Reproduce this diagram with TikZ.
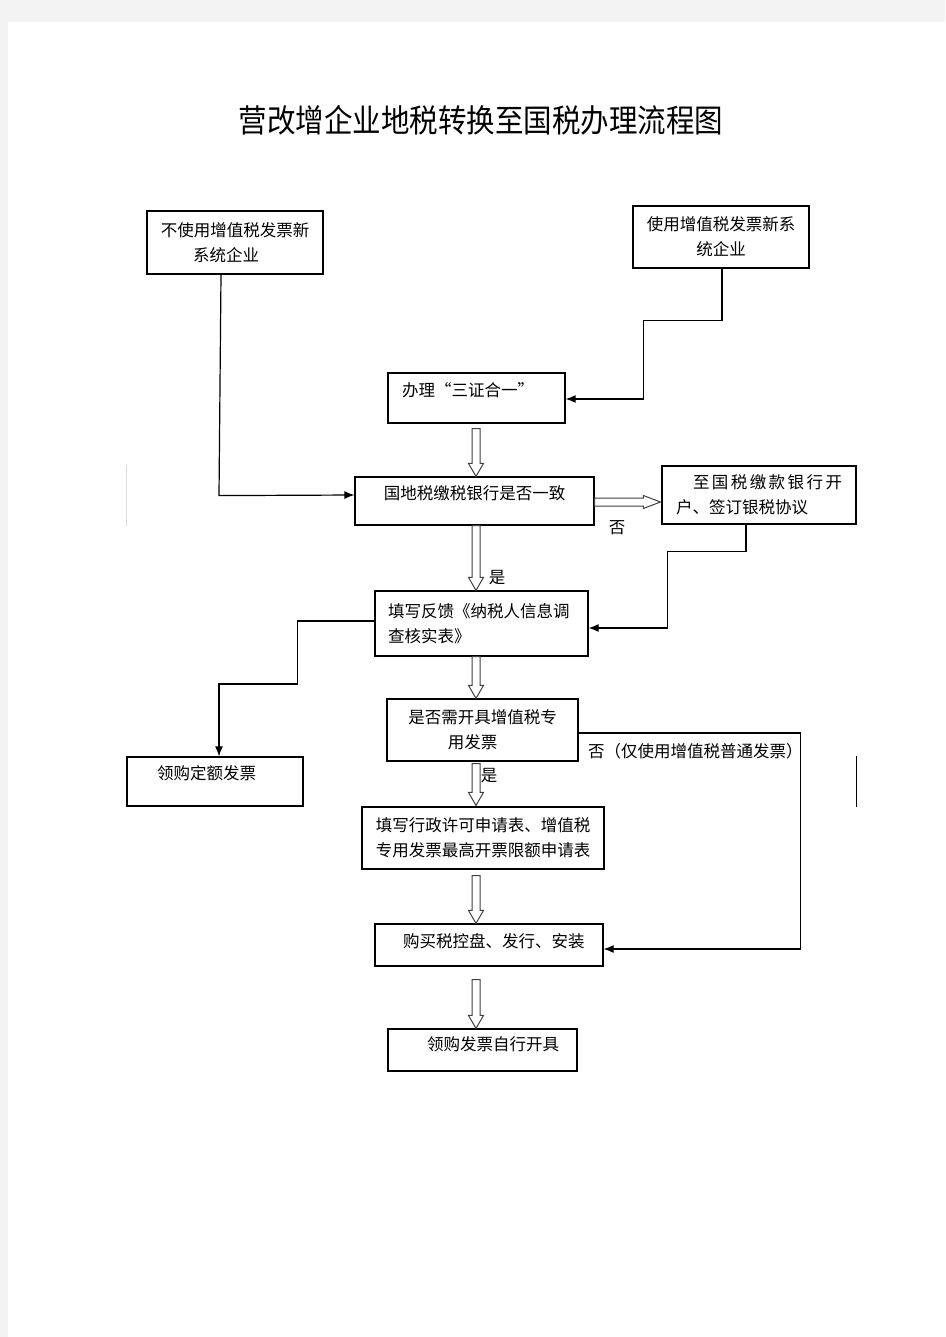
\documentclass[tikz,border=0pt]{standalone}
\usepackage{fontspec}
\newfontfamily\cjk{Noto Sans CJK SC}
\usetikzlibrary{arrows.meta,calc}
\definecolor{pagegrey}{HTML}{F3F3F3}
\newcommand\hollowV[2]{%
  \draw[hollow] ($(#1)+(-4,0)$) -- ($(#2)+(-4,-13)$) -- ($(#2)+(-7.5,-13)$) -- (#2)
    -- ($(#2)+(7.5,-13)$) -- ($(#2)+(4,-13)$) -- ($(#1)+(4,0)$) -- cycle;}
\newcommand\hollowH[2]{%
  \draw[hollow] ($(#1)+(0,-4)$) -- ($(#2)+(-17,-4)$) -- ($(#2)+(-17,-6.5)$) -- (#2)
    -- ($(#2)+(-17,6.5)$) -- ($(#2)+(-17,4)$) -- ($(#1)+(0,4)$) -- cycle;}
\tikzset{
  box/.style={draw, line width=1.2pt, inner sep=0pt, font=\cjk\fontsize{16.5}{25}\selectfont},
  conn/.style={line width=1.2pt, -{Latex[length=10pt,width=8pt]}},
  hollow/.style={draw=black!75, line width=1pt, fill=white},
  lbl/.style={font=\cjk\fontsize{16.5}{25}\selectfont, inner sep=0pt},
}
\begin{document}
\begin{tikzpicture}[x=1pt,y=-1pt]
\useasboundingbox (0,0) rectangle (945,1337);
\fill[pagegrey] (0,0) rectangle (945,1337);
\fill[white] (8,22) rectangle (945,1337);

% title
\node[inner sep=0pt, font=\cjk\fontsize{28.5}{30}\selectfont] (title) at (481,120)
  {\scalebox{1}[1.12]{营改增企业地税转换至国税办理流程图}};

% boxes
\node[box, minimum width=176, minimum height=63, text width=170, align=center] (A) at (235,242.5)
  {不使用增值税发票新\\系统企业\hspace{18pt}\mbox{}};
\node[box, minimum width=176, minimum height=62, text width=170, align=center] (B) at (721,237)
  {使用增值税发票新系\\统企业};
\node[box, minimum width=177, minimum height=50, inner xsep=14, text width=149, align=left,
  text height=12pt, text depth=16pt] (C) at (476.5,398) {办理“三证合一”};
\node[box, minimum width=239, minimum height=48, text width=230, align=center,
  text height=12pt, text depth=16pt] (D) at (474.5,501) {国地税缴税银行是否一致};
\node[box, minimum width=194, minimum height=58, inner xsep=14, text width=166, align=left] (E) at (759,495)
  {\hspace*{17pt}\makebox[149pt][s]{至\hfil 国\hfil 税\hfil 缴\hfil 款\hfil 银\hfil 行\hfil 开}\\户、签订银税协议};
\node[box, minimum width=213, minimum height=65, inner xsep=13, text width=187, align=left] (F) at (481.5,623.5)
  {填写反馈《纳税人信息调\\查核实表》};
\node[box, minimum width=191, minimum height=62, text width=185, align=center] (G) at (482.5,730)
  {是否需开具增值税专\\用发票\hspace{20pt}\mbox{}};
\node[box, minimum width=176, minimum height=49, inner xsep=30, text width=116, align=left,
  text height=12pt, text depth=16pt] (H) at (215,781.5) {领购定额发票};
\node[box, minimum width=242, minimum height=62, text width=236, align=center] (I) at (483,838)
  {填写行政许可申请表、增值税\\专用发票最高开票限额申请表};
\node[box, minimum width=228, minimum height=42, inner xsep=28, text width=172, align=left,
  text height=12pt, text depth=8pt] (J) at (489,945) {购买税控盘、发行、安装};
\node[box, minimum width=189, minimum height=42, inner xsep=39, text width=111, align=left,
  text height=12pt, text depth=12pt] (K) at (482.5,1050) {领购发票自行开具};

% spine for hollow arrows
\coordinate (spine) at (476,0);

% connectors
\draw[conn] ($(A.south)+(-14,0)$) -- ($(A.south)+(-16,221)$) -- ($(D.west)+(0,-6)$);
\draw[conn] ($(B.south)+(1,0)$) -- ++(0,52) -| ($(C.east)+(78,1)$) -- ($(C.east)+(0,1)$);
\draw[conn] ($(E.south)+(-13,0)$) -- ++(0,27) -| ($(F.east)+(79,4.5)$) -- ($(F.east)+(0,4.5)$);
\draw[conn] ($(F.west)+(0,-2.5)$) -- ++(-77,0) -- ++(0,63) -| ($(H.north)+(4,0)$);
\draw[conn] ($(G.east)+(0,3)$) -- ++(222,0) |- ($(J.east)+(0,4)$);

% hollow arrows
\coordinate (c1) at ($(C.south -| spine)+(0,5)$);
\coordinate (d1) at (D.north -| spine);
\hollowV{c1}{d1}
\coordinate (d2) at (D.south -| spine);
\coordinate (f1) at (F.north -| spine);
\hollowV{d2}{f1}
\coordinate (f2) at (F.south -| spine);
\coordinate (g1) at (G.north -| spine);
\hollowV{f2}{g1}
\coordinate (g2) at ($(G.south -| spine)+(0,2)$);
\coordinate (i1) at ($(I.north -| spine)+(0,-1)$);
\hollowV{g2}{i1}
\coordinate (i2) at ($(I.south -| spine)+(0,6)$);
\coordinate (j1) at (J.north -| spine);
\hollowV{i2}{j1}
\coordinate (j2) at ($(J.south -| spine)+(0,13)$);
\coordinate (k1) at (K.north -| spine);
\hollowV{j2}{k1}
\coordinate (dE) at ($(D.east)+(0,1)$);
\coordinate (eW) at ($(E.west |- D.east)+(-1,1)$);
\hollowH{dE}{eW}

% labels
\node[lbl] (no1) at (617,528) {否};
\node[lbl] (yes1) at (497,578) {是};
\node[lbl] (yes2) at (489,776) {是};
\node[lbl, anchor=west] (no2) at (588,751) {否（仅使用增值税普通发票）};

% stray rules
\draw[black!15, line width=1pt] (126.5,465) -- (126.5,526);
\draw[black, line width=1.3pt] (856.3,756) -- (856.3,807);
\end{tikzpicture}
\end{document}
